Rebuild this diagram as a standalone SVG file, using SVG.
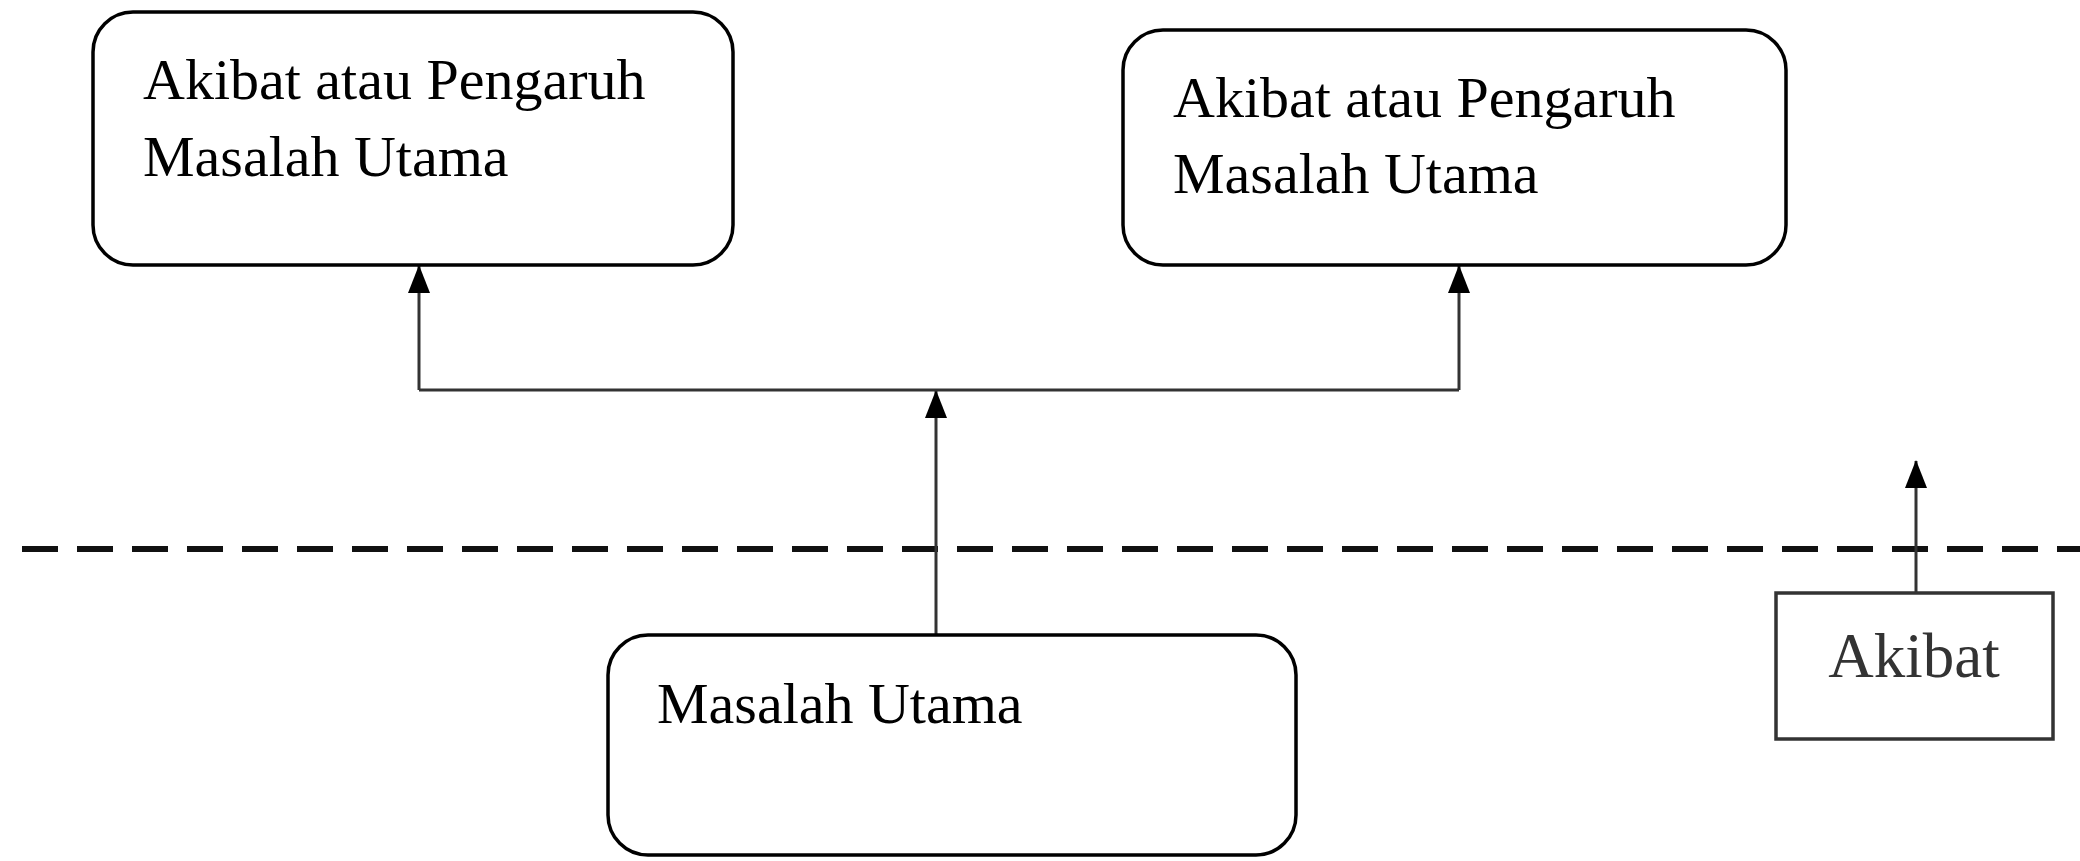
<svg xmlns="http://www.w3.org/2000/svg" width="2080" height="861" viewBox="0 0 2080 861">
<style>
.box{fill:#fff;stroke:#000;stroke-width:3.5}
.t{font-family:"Liberation Serif","Times New Roman",serif;font-size:58px;fill:#000}
.c{fill:none;stroke:#333;stroke-width:3}
</style>
<defs>
<marker id="ah" markerUnits="userSpaceOnUse" markerWidth="28" markerHeight="22" viewBox="0 0 28 22" refX="27" refY="11" orient="auto">
<path d="M0,0 L28,11 L0,22 z" fill="#000"/>
</marker>
</defs>
<rect width="2080" height="861" fill="#fff"/>
<line x1="22" y1="549" x2="2080" y2="549" stroke="#111" stroke-width="6" stroke-dasharray="36 19"/>
<g id="connectors">
<path class="c" d="M936,634 V391" marker-end="url(#ah)"/>
<path class="c" d="M419,390 H1459"/>
<path class="c" d="M419,390 V266" marker-end="url(#ah)"/>
<path class="c" d="M1459,390 V266" marker-end="url(#ah)"/>
<path class="c" d="M1916,593 V461" marker-end="url(#ah)"/>
</g>
<g id="node-akibat-1">
<rect class="box" x="93" y="12" width="640" height="253" rx="40"/>
<text class="t" x="143" y="99">Akibat atau Pengaruh</text>
<text class="t" x="143" y="176">Masalah Utama</text>
</g>
<g id="node-akibat-2">
<rect class="box" x="1123" y="30" width="663" height="235" rx="40"/>
<text class="t" x="1173" y="117">Akibat atau Pengaruh</text>
<text class="t" x="1173" y="193">Masalah Utama</text>
</g>
<g id="node-masalah">
<rect class="box" x="608" y="635" width="688" height="220" rx="40"/>
<text class="t" x="657" y="723">Masalah Utama</text>
</g>
<g id="node-legend">
<rect x="1776" y="593" width="277" height="146" fill="#fff" stroke="#333" stroke-width="3.5"/>
<text class="t" x="1914" y="677" text-anchor="middle" style="fill:#333;font-size:63px">Akibat</text>
</g>
</svg>
